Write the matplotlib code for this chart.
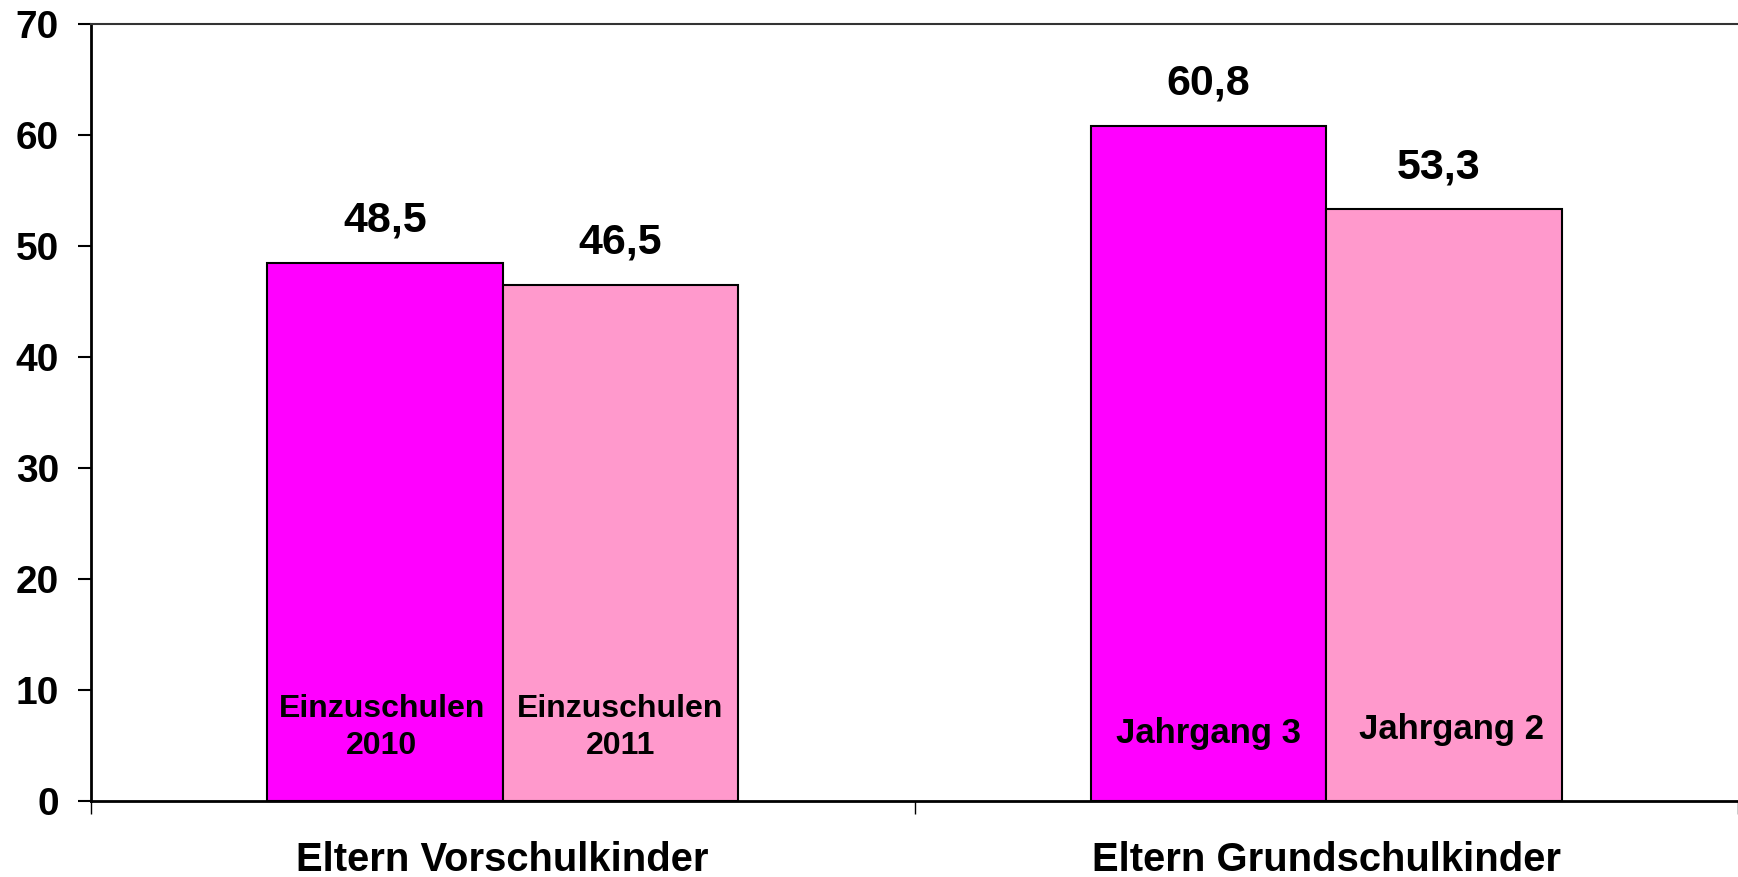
import matplotlib.pyplot as plt

# data
groups = ["Eltern Vorschulkinder", "Eltern Grundschulkinder"]
first_values = [48.5, 60.8]
second_values = [46.5, 53.3]
first_names = ["Einzuschulen\n2010", "Jahrgang 3"]
second_names = ["Einzuschulen\n2011", "Jahrgang 2"]

# layout (category 0 spans -0.5..0.5)
width = 0.286
value_dx = [[0.0, 0.0], [0.0, -0.007]]
name_y = [[6.6, 6.6], [6.1, 6.4]]
name_dx = [[-0.004, 0.0], [0.0, 0.009]]

plt.rcParams['font.family'] = ['Liberation Sans', 'DejaVu Sans']
plt.rcParams['font.weight'] = 'bold'

fig = plt.figure(figsize=(17.38, 8.77), dpi=100)
ax = fig.add_axes([91 / 1738, 1 - 801 / 877, 1 - 91 / 1738, 777 / 877])

for i in range(len(groups)):
    x1 = i - width / 2
    x2 = i + width / 2
    ax.bar(x1, first_values[i], width=width, color="#FF00FF",
           edgecolor="black", linewidth=1.5, zorder=2)
    ax.bar(x2, second_values[i], width=width, color="#FF99CC",
           edgecolor="black", linewidth=1.5, zorder=2)
    for j, (x, v, name) in enumerate([(x1, first_values[i], first_names[i]),
                                      (x2, second_values[i], second_names[i])]):
        lab = f"{v:.1f}".replace(".", ",")
        ax.text(x + value_dx[i][j], v + 3.8, lab, ha="center", va="center",
                fontsize=31, fontweight="bold")
        if i == 1:
            fam, fs = ['Liberation Sans Narrow', 'Liberation Sans'], 25
        else:
            fam, fs = ['Liberation Sans'], 23
        ax.text(x + name_dx[i][j], name_y[i][j], name, ha="center", va="center",
                fontsize=fs, fontweight="bold", family=fam, linespacing=1.32)
    ax.text(i, -5.35, groups[i], ha="center", va="center",
            fontsize=28.8, fontweight="bold", clip_on=False)

ax.set_ylim(0, 70)
ax.set_xlim(-0.5, 0.5 + (1738 - 918) / 827)
ax.set_yticks(range(0, 71, 10))
ax.set_xticks([-0.5, 0.5, 1.5])
ax.set_xticklabels([])
ax.tick_params(axis="y", labelsize=28, length=9.4, width=1.5, pad=13.7, direction="out")
ax.tick_params(axis="x", length=9.4, width=1, direction="out")
for lab in ax.get_yticklabels():
    lab.set_fontweight("bold")

ax.spines["right"].set_visible(False)
ax.spines["left"].set_linewidth(2)
ax.spines["bottom"].set_linewidth(2)
ax.spines["top"].set_linewidth(1.5)
ax.spines["top"].set_color("#333333")

fig.savefig("out.png", dpi=100)
